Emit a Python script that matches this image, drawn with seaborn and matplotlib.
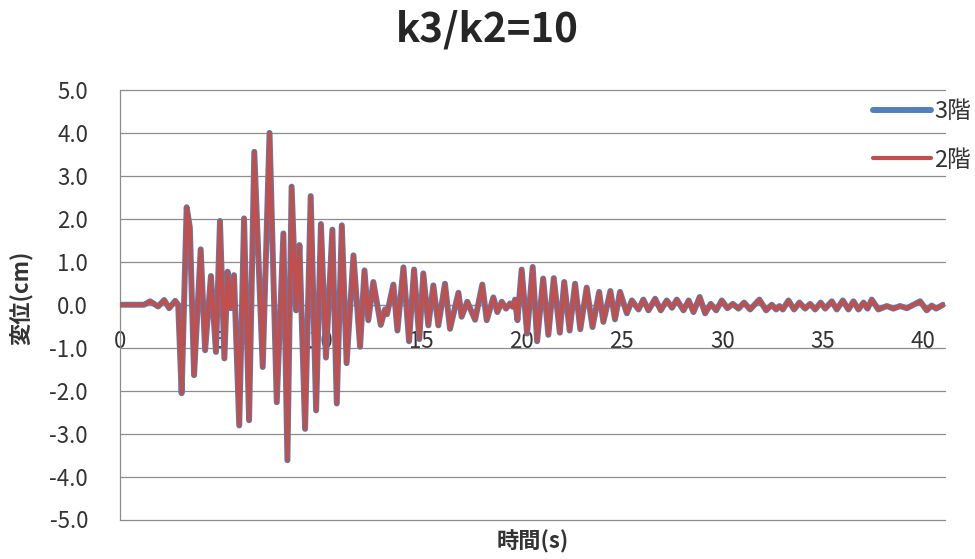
import matplotlib
matplotlib.use("Agg")
import matplotlib.pyplot as plt
import pandas as pd
import seaborn as sns

# ---- data (extrema of the response) ----
time_s = [
    0.0, 1.2, 1.5, 1.9, 2.2, 2.45, 2.75, 2.9,
    3.07, 3.32, 3.48, 3.69, 4.02, 4.24, 4.53, 4.78, 4.98, 5.20, 5.36, 5.51, 5.68, 5.94,
    6.18, 6.43, 6.69, 7.11, 7.45, 7.81, 8.14, 8.34, 8.55, 8.77, 8.94, 9.22, 9.50, 9.77,
    10.01, 10.26, 10.58, 10.80, 11.05, 11.29, 11.63, 11.96, 12.18, 12.37, 12.62, 12.99,
    13.20, 13.30, 13.62, 13.82, 14.12, 14.40, 14.65, 14.91, 15.11, 15.36, 15.61, 15.86,
    16.19, 16.44, 16.86, 17.02, 17.30, 17.69, 18.05, 18.27, 18.60, 18.80, 19.02, 19.23,
    19.43, 19.57, 19.68, 19.80, 20.01, 20.28, 20.56, 20.78, 21.08, 21.34, 21.61, 21.91,
    22.13, 22.40, 22.67, 22.93, 23.25, 23.54, 23.87, 24.08, 24.43, 24.66, 24.91, 25.25,
    25.50, 25.83, 26.07, 26.33, 26.66, 26.94, 27.24, 27.50, 27.74, 28.07, 28.33, 28.57,
    28.88, 29.15, 29.43, 29.70, 29.98, 30.26, 30.53, 30.81, 31.09, 31.39, 31.85, 32.19,
    32.47, 32.69, 32.85, 33.02, 33.30, 33.58, 33.85, 34.13, 34.38, 34.63, 34.91, 35.13,
    35.46, 35.71, 36.01, 36.29, 36.54, 36.79, 37.04, 37.24, 37.45, 37.78, 38.20, 38.53,
    38.86, 39.20, 39.86, 40.19, 40.44, 40.66, 41.00,
]

disp_3f = [
    0.0, 0.0, 0.08, -0.04, 0.11, -0.08, 0.09, 0.0,
    -2.06, 2.27, 1.80, -1.64, 1.29, -1.06, 0.67, -1.10, 1.95, -1.25, 0.77, -0.08, 0.69, -2.81,
    2.01, -2.69, 3.56, -1.45, 4.00, -2.27, 1.66, -3.62, 2.75, -0.13, 1.39, -2.89, 2.53, -2.46,
    1.88, -1.23, 1.75, -2.30, 1.85, -1.36, 1.15, -0.98, 0.80, -0.36, 0.53, -0.47,
    -0.11, -0.22, 0.47, -0.60, 0.87, -0.85, 0.82, -0.80, 0.73, -0.48, 0.45, -0.48,
    0.49, -0.56, 0.28, -0.28, 0.07, -0.35, 0.47, -0.36, 0.17, -0.17, 0.07, -0.09,
    0.03, -0.05, 0.12, -0.36, 0.82, -0.67, 0.88, -0.85, 0.61, -0.70, 0.62, -0.65,
    0.53, -0.60, 0.49, -0.57, 0.40, -0.52, 0.30, -0.40, 0.32, -0.34, 0.30, -0.20,
    0.10, -0.11, 0.12, -0.13, 0.14, -0.13, 0.10, -0.07, 0.12, -0.13, 0.10, -0.17,
    0.18, -0.20, 0.02, -0.13, 0.10, -0.08, 0.02, -0.09, 0.05, -0.11, 0.12, -0.13,
    0.00, -0.11, -0.03, -0.11, 0.10, -0.11, 0.05, -0.09, 0.02, -0.11, 0.05, -0.09,
    0.08, -0.11, 0.10, -0.11, 0.08, -0.11, 0.05, -0.09, 0.12, -0.11, -0.03, -0.09,
    -0.03, -0.08, 0.08, -0.13, -0.02, -0.09, 0.00,
]

disp_2f = [
    0.0, 0.0, 0.08, -0.04, 0.11, -0.08, 0.09, 0.0,
    -2.06, 2.27, 1.80, -1.64, 1.29, -1.06, 0.67, -1.10, 1.95, -1.25, 0.77, -0.08, 0.69, -2.81,
    2.01, -2.69, 3.56, -1.45, 4.00, -2.27, 1.66, -3.62, 2.75, -0.13, 1.39, -2.89, 2.53, -2.46,
    1.88, -1.23, 1.75, -2.30, 1.85, -1.36, 1.15, -0.98, 0.80, -0.36, 0.53, -0.47,
    -0.11, -0.22, 0.47, -0.60, 0.87, -0.85, 0.82, -0.80, 0.73, -0.48, 0.45, -0.48,
    0.49, -0.56, 0.28, -0.28, 0.07, -0.35, 0.47, -0.36, 0.17, -0.17, 0.07, -0.09,
    0.03, -0.05, 0.12, -0.36, 0.82, -0.67, 0.88, -0.85, 0.61, -0.70, 0.62, -0.65,
    0.53, -0.60, 0.49, -0.57, 0.40, -0.52, 0.30, -0.40, 0.32, -0.34, 0.30, -0.20,
    0.10, -0.11, 0.12, -0.13, 0.14, -0.13, 0.10, -0.07, 0.12, -0.13, 0.10, -0.17,
    0.18, -0.20, 0.02, -0.13, 0.10, -0.08, 0.02, -0.09, 0.05, -0.11, 0.12, -0.13,
    0.00, -0.11, -0.03, -0.11, 0.10, -0.11, 0.05, -0.09, 0.02, -0.11, 0.05, -0.09,
    0.08, -0.11, 0.10, -0.11, 0.08, -0.11, 0.05, -0.09, 0.12, -0.11, -0.03, -0.09,
    -0.03, -0.08, 0.08, -0.13, -0.02, -0.09, 0.00,
]

series_names = ["3階", "2階"]
series_colors = ["#4F81BD", "#C0504D"]
x_ticks = [0, 5, 10, 15, 20, 25, 30, 35, 40]
y_ticks = [-5.0, -4.0, -3.0, -2.0, -1.0, 0.0, 1.0, 2.0, 3.0, 4.0, 5.0]
chart_title = "k3/k2=10"
x_label = "時間(s)"
y_label = "変位(cm)"

# ---- style ----
sns.set_style("white")
plt.rcParams["font.family"] = ["Noto Sans CJK JP", "DejaVu Sans"]
plt.rcParams["axes.unicode_minus"] = False

GRID = "#8C8C8C"
TEXT = "#333333"

df = pd.DataFrame({
    "time": time_s + time_s,
    "disp": disp_3f + disp_2f,
    "floor": [series_names[0]] * len(time_s) + [series_names[1]] * len(time_s),
})

W, H = 975, 559
fig = plt.figure(figsize=(W / 100, H / 100), dpi=100)
ax = fig.add_axes([120 / W, 1 - 519.5 / H, 825 / W, 429.5 / H])
ax.set_axisbelow(True)

widths = [4.3, 3.0]
for name, col, lw, z in zip(series_names, series_colors, widths, [3, 4]):
    sns.lineplot(data=df[df["floor"] == name], x="time", y="disp", ax=ax,
                 color=col, linewidth=lw, estimator=None, label=name,
                 solid_joinstyle="round", solid_capstyle="round", zorder=z)

ax.set_xlim(0, 41.1)
ax.set_ylim(-5.0, 5.0)
ax.set_yticks(y_ticks)
ax.set_yticklabels([f"{v:.1f}" for v in y_ticks])
ax.set_xticks(x_ticks)
ax.set_xticklabels([str(v) for v in x_ticks])

ax.grid(axis="y", color=GRID, linewidth=0.9)
ax.grid(axis="x", visible=False)
for gl in ax.get_ygridlines():
    gl.set_clip_on(False)

for s in ["top", "right"]:
    ax.spines[s].set_visible(False)
ax.spines["left"].set_color(GRID)
ax.spines["left"].set_linewidth(0.9)
ax.spines["bottom"].set_position(("data", 0))
ax.spines["bottom"].set_color(GRID)
ax.spines["bottom"].set_linewidth(0.9)

ax.tick_params(axis="y", length=0, pad=23, labelsize=16, labelcolor=TEXT)
ax.tick_params(axis="x", length=4, width=0.9, color=GRID, direction="out",
               pad=14, labelsize=16, labelcolor=TEXT)

ax.set_xlabel(x_label, fontsize=16, fontweight="bold", color=TEXT)
ax.xaxis.set_label_coords(0.5, -0.025)
ax.set_ylabel(y_label, fontsize=16, fontweight="bold", color=TEXT)
ax.yaxis.set_label_coords(-0.105, 0.515)

fig.text(0.5, 1 - 30 / H, chart_title, ha="center", va="center",
         fontsize=29, fontweight="bold", color="#262626")

handles, labels = ax.get_legend_handles_labels()
if ax.get_legend() is not None:
    ax.get_legend().remove()
fig.legend(handles, labels, loc="upper left",
           bbox_to_anchor=(873 / W, 1 - 100 / H), frameon=False,
           fontsize=17, handlelength=2.45, handletextpad=0.13,
           labelspacing=1.08, borderpad=0, borderaxespad=0,
           labelcolor=TEXT)

fig.savefig("out.png", dpi=100)
